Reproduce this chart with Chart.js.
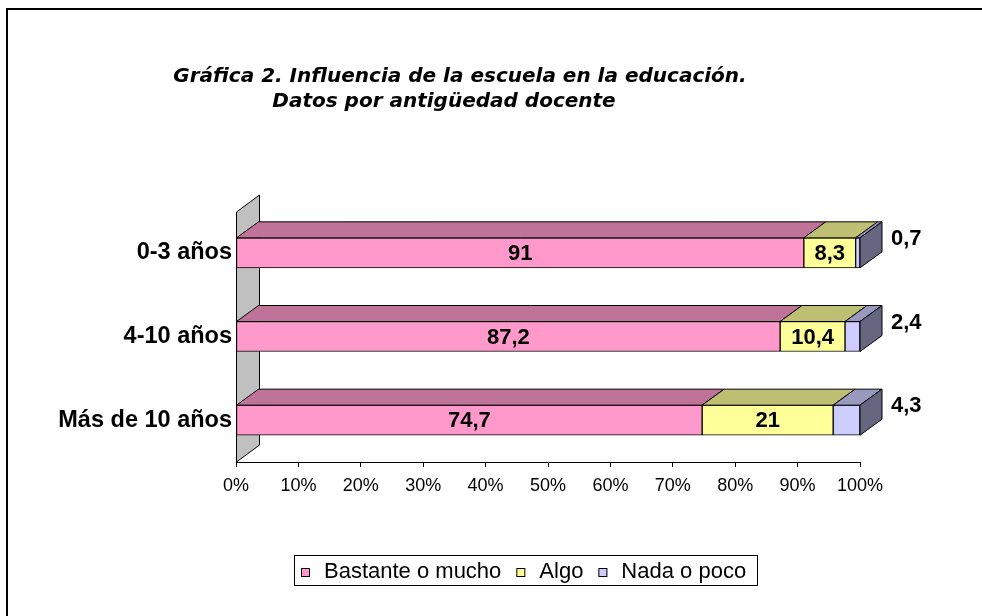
<!DOCTYPE html>
<html>
<head>
<meta charset="utf-8">
<script src="https://cdn.jsdelivr.net/npm/chart.js@4.4.0/dist/chart.umd.min.js"></script>
<style>
  html, body { margin: 0; padding: 0; background: #fff; }
  canvas { display: block; }
</style>
</head>
<body>
<canvas id="chart" width="982" height="616"></canvas>
<script>
"use strict";

// Data
const categories = ['0-3 años', '4-10 años', 'Más de 10 años'];
const seriesNames = ['Bastante o mucho', 'Algo', 'Nada o poco'];
const bastante = [91, 87.2, 74.7];
const algo = [8.3, 10.4, 21];
const nada = [0.7, 2.4, 4.3];
const xTicks = [0, 10, 20, 30, 40, 50, 60, 70, 80, 90, 100];
const titleLines = ['Gráfica 2. Influencia de la escuela en la educación.', 'Datos por antigüedad docente'];

// Styles
const frontColors = ['#FF99CC', '#FFFF99', '#CCCCFF'];
const topColors = ['#C07399', '#BFBF73', '#9999BF'];
const sideColor = '#666680';
const DX = 22, DY = 16;
const FONT = '"Liberation Sans", Arial, sans-serif';

function fmt(v) {
  return String(v).replace('.', ',');
}

function poly(ctx, pts, fill) {
  ctx.beginPath();
  ctx.moveTo(pts[0][0], pts[0][1]);
  for (let i = 1; i < pts.length; i++) ctx.lineTo(pts[i][0], pts[i][1]);
  ctx.closePath();
  ctx.fillStyle = fill;
  ctx.fill();
  ctx.strokeStyle = '#000';
  ctx.lineWidth = 1;
  ctx.stroke();
}

const threeD = {
  id: 'threeD',
  beforeDraw(chart) {
    const ctx = chart.ctx;
    ctx.save();
    ctx.fillStyle = '#fff';
    ctx.fillRect(0, 0, chart.width, chart.height);
    // outer frame (top and left only)
    ctx.fillStyle = '#000';
    ctx.fillRect(6, 8, chart.width - 6, 2);
    ctx.fillRect(6, 8, 2, chart.height - 8);
    ctx.restore();
  },
  beforeDatasetsDraw(chart) {
    // left wall
    const { ctx, chartArea: a } = chart;
    ctx.save();
    poly(ctx, [
      [a.left + 0.5, a.top + 1],
      [a.left + DX + 1.5, a.top - DY],
      [a.left + DX + 1.5, a.bottom - DY - 1],
      [a.left + 0.5, a.bottom]
    ], '#C0C0C0');
    ctx.restore();
  },
  afterDatasetsDraw(chart) {
    const { ctx, chartArea: a } = chart;
    const last = chart.data.datasets.length - 1;
    ctx.save();
    chart.data.datasets.forEach((ds, i) => {
      const meta = chart.getDatasetMeta(i);
      meta.data.forEach((bar) => {
        const top = bar.y - bar.height / 2;
        const bottom = bar.y + bar.height / 2;
        poly(ctx, [
          [bar.base, top],
          [bar.x, top],
          [bar.x + DX, top - DY],
          [bar.base + DX, top - DY]
        ], topColors[i]);
        if (i === last) {
          poly(ctx, [
            [bar.x, top],
            [bar.x + DX, top - DY],
            [bar.x + DX, bottom - DY],
            [bar.x, bottom]
          ], sideColor);
        }
      });
    });
    // data labels
    ctx.font = 'bold 22px ' + FONT;
    ctx.fillStyle = '#000';
    ctx.textBaseline = 'middle';
    chart.data.datasets.forEach((ds, i) => {
      const meta = chart.getDatasetMeta(i);
      meta.data.forEach((bar, j) => {
        const txt = fmt(ds.data[j]);
        if (i === last) {
          ctx.textAlign = 'left';
          ctx.fillText(txt, a.right + DX + 9, bar.y - 14);
        } else {
          ctx.textAlign = 'center';
          ctx.fillText(txt, (bar.x + bar.base) / 2, bar.y + 1);
        }
      });
    });
    ctx.restore();
  },
  afterDraw(chart) {
    const ctx = chart.ctx;
    ctx.save();
    // title
    ctx.fillStyle = '#000';
    ctx.textAlign = 'center';
    ctx.textBaseline = 'middle';
    ctx.font = 'italic bold 20px "DejaVu Sans", Verdana, sans-serif';
    ctx.fillText(titleLines[0], 460, 77);
    ctx.fillText(titleLines[1], 444, 102);
    // legend
    ctx.strokeStyle = '#000';
    ctx.lineWidth = 1;
    ctx.strokeRect(294.5, 555.5, 463, 30);
    ctx.font = '22px ' + FONT;
    ctx.textAlign = 'left';
    let x = 301;
    const cy = 572;
    seriesNames.forEach((name, i) => {
      ctx.fillStyle = frontColors[i];
      ctx.fillRect(x, cy - 4, 9, 9);
      ctx.strokeRect(x + 0.5, cy - 3.5, 8, 8);
      x += 23;
      ctx.fillStyle = '#000';
      ctx.fillText(name, x, cy);
      x += ctx.measureText(name).width + 15;
    });
    ctx.restore();
  }
};

const chart = new Chart(document.getElementById('chart'), {
  type: 'bar',
  data: {
    labels: categories,
    datasets: [bastante, algo, nada].map((d, i) => ({
      label: seriesNames[i],
      data: d,
      backgroundColor: frontColors[i],
      borderColor: '#000',
      borderWidth: 1,
      borderSkipped: false,
      barThickness: 30
    }))
  },
  options: {
    indexAxis: 'y',
    responsive: false,
    animation: false,
    events: [],
    layout: { padding: { left: 0, right: 122, top: 211, bottom: 114 } },
    plugins: {
      legend: { display: false },
      title: { display: false },
      tooltip: { enabled: false }
    },
    scales: {
      x: {
        stacked: true,
        min: 0,
        max: 100,
        afterBuildTicks: (s) => { s.ticks = xTicks.map(v => ({ value: v })); },
        afterFit: (s) => { s.height = 40; },
        grid: { drawOnChartArea: false, drawTicks: true, tickLength: 5, color: '#000' },
        border: { color: '#000' },
        ticks: {
          padding: 8,
          color: '#000',
          maxRotation: 0,
          font: { family: FONT, size: 18 },
          callback: (v) => v + '%'
        }
      },
      y: {
        stacked: true,
        afterFit: (s) => { s.width = 236; },
        grid: { display: false, drawTicks: false },
        border: { display: false },
        ticks: {
          padding: 4,
          color: '#000',
          font: { family: FONT, size: 23.5, weight: 'bold' }
        }
      }
    }
  },
  plugins: [threeD]
});
</script>
</body>
</html>
